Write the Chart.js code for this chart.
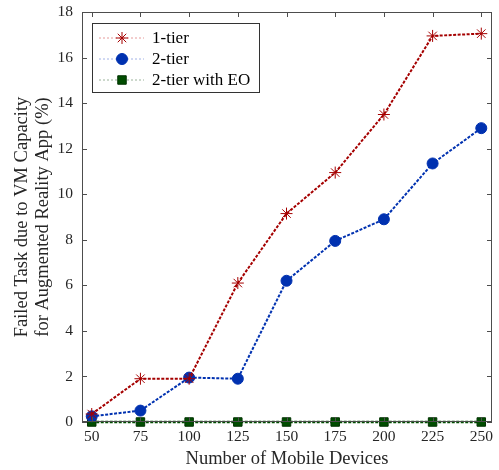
<!DOCTYPE html>
<html>
<head>
<meta charset="utf-8">
<script src="https://cdn.jsdelivr.net/npm/chart.js@4.4.0/dist/chart.umd.min.js"></script>
<style>
  html, body { margin: 0; padding: 0; background: #fff; }
  #wrap { width: 499px; height: 470px; }
</style>
</head>
<body>
<div id="wrap"><canvas id="chart" width="499" height="470"></canvas></div>
<script>
// ===== data =====
const devices = [50, 75, 100, 125, 150, 175, 200, 225, 250];
const oneTier = [0.35, 1.9, 1.9, 6.1, 9.15, 10.95, 13.5, 16.95, 17.05];
const twoTier = [0.25, 0.5, 1.95, 1.9, 6.2, 7.95, 8.9, 11.35, 12.9];
const twoTierEO = [0, 0, 0, 0, 0, 0, 0, 0, 0];
const yTicks = [0, 2, 4, 6, 8, 10, 12, 14, 16, 18];

const FONT = "'Liberation Serif', 'Times New Roman', serif";
const AXIS_COLOR = "#262626";

function toPoints(vals) {
    return devices.map((d, i) => ({ x: d, y: vals[i] }));
}

// ===== box + inward ticks (matlab style) =====
const boxPlugin = {
    id: "box",
    afterDatasetsDraw(chart) {
        const { ctx, chartArea: a, scales } = chart;
        ctx.save();
        ctx.strokeStyle = "#4d4d4d";
        ctx.lineWidth = 1;
        ctx.strokeRect(a.left + 0.5, a.top + 0.5, a.right - a.left - 1, a.bottom - a.top - 1);
        ctx.beginPath();
        devices.forEach(v => {
            const x = Math.round(scales.x.getPixelForValue(v)) + 0.5;
            ctx.moveTo(x, a.top); ctx.lineTo(x, a.top + 5);
            ctx.moveTo(x, a.bottom); ctx.lineTo(x, a.bottom - 5);
        });
        yTicks.forEach(v => {
            const y = Math.round(scales.y.getPixelForValue(v)) + 0.5;
            ctx.moveTo(a.left, y); ctx.lineTo(a.left + 5, y);
            ctx.moveTo(a.right, y); ctx.lineTo(a.right - 5, y);
        });
        ctx.stroke();
        ctx.restore();
    }
};

// ===== legend box inside the axes =====
const legendPlugin = {
    id: "boxLegend",
    afterDraw(chart) {
        const { ctx } = chart;
        const x0 = 92, y0 = 23, w = 167, h = 69;
        ctx.save();
        ctx.fillStyle = "#fff";
        ctx.fillRect(x0, y0, w, h);
        ctx.strokeStyle = "#333";
        ctx.lineWidth = 1;
        ctx.strokeRect(x0 + 0.5, y0 + 0.5, w, h);
        chart.data.datasets.forEach((ds, i) => {
            const y = y0 + 15 + i * 21;
            ctx.strokeStyle = ds.legendLine;
            ctx.lineWidth = 0.8;
            ctx.setLineDash([2, 2]);
            ctx.beginPath();
            ctx.moveTo(x0 + 7, y);
            ctx.lineTo(x0 + 52, y);
            ctx.stroke();
            ctx.setLineDash([]);
            ctx.fillStyle = ds.pointBackgroundColor;
            ctx.strokeStyle = ds.pointBorderColor;
            ctx.lineWidth = 1;
            Chart.helpers.drawPoint(ctx, {
                pointStyle: ds.pointStyle,
                radius: ds.pointRadius,
                borderWidth: 1
            }, x0 + 30, y);
            ctx.fillStyle = "#000";
            ctx.font = "17px " + FONT;
            ctx.textBaseline = "middle";
            ctx.fillText(ds.label, x0 + 60, y + 1);
        });
        ctx.restore();
    }
};

const ctx = document.getElementById("chart").getContext("2d");

new Chart(ctx, {
    type: "line",
    data: {
        datasets: [
            {
                label: "1-tier",
                data: toPoints(oneTier),
                borderColor: "#a50000",
                borderWidth: 2,
                borderDash: [3, 1.5],
                pointStyle: "star",
                pointRadius: 6,
                pointBorderColor: "#a50000",
                pointBackgroundColor: "#a50000",
                pointBorderWidth: 1,
                legendLine: "#e08080"
            },
            {
                label: "2-tier",
                data: toPoints(twoTier),
                borderColor: "#0031b0",
                borderWidth: 2,
                borderDash: [3, 1.5],
                pointStyle: "circle",
                pointRadius: 5.5,
                pointBorderColor: "#0031b0",
                pointBackgroundColor: "#0031b0",
                pointBorderWidth: 1,
                legendLine: "#8aa0e0"
            },
            {
                label: "2-tier with EO",
                data: toPoints(twoTierEO),
                borderColor: "#004d00",
                borderWidth: 2.5,
                borderDash: [3, 1.5],
                pointStyle: "rect",
                pointRadius: 6,
                pointBorderColor: "#003300",
                pointBackgroundColor: "#004d00",
                pointBorderWidth: 1,
                legendLine: "#80a080"
            }
        ]
    },
    options: {
        responsive: false,
        animation: false,
        clip: false,
        layout: { padding: { top: 12, right: 6, left: 0, bottom: 0 } },
        plugins: {
            legend: { display: false },
            tooltip: { enabled: false }
        },
        scales: {
            x: {
                type: "linear",
                min: 45,
                max: 255.5,
                afterBuildTicks: s => { s.ticks = devices.map(v => ({ value: v })); },
                afterFit: s => { s.height = 48; s.paddingLeft = 0; s.paddingRight = 0; },
                grid: { display: false, drawTicks: false },
                border: { display: false },
                ticks: {
                    color: AXIS_COLOR,
                    padding: 6,
                    font: { family: FONT, size: 15.5 },
                    maxRotation: 0,
                    autoSkip: false
                },
                title: {
                    display: true,
                    text: "Number of Mobile Devices",
                    color: AXIS_COLOR,
                    font: { family: FONT, size: 18.5 },
                    padding: { top: 0, bottom: 0 }
                }
            },
            y: {
                min: 0,
                max: 18,
                afterBuildTicks: s => { s.ticks = yTicks.map(v => ({ value: v })); },
                afterFit: s => { s.width = 82; s.paddingTop = 0; s.paddingBottom = 0; },
                grid: { display: false, drawTicks: false },
                border: { display: false },
                ticks: {
                    color: AXIS_COLOR,
                    padding: 9,
                    font: { family: FONT, size: 15.5 }
                },
                title: {
                    display: true,
                    text: ["Failed Task due to VM Capacity", "for Augmented Reality App (%)"],
                    color: AXIS_COLOR,
                    font: { family: FONT, size: 18.5, lineHeight: 1.14 },
                    padding: { top: 12, bottom: 0 }
                }
            }
        }
    },
    plugins: [boxPlugin, legendPlugin]
});
</script>
</body>
</html>
